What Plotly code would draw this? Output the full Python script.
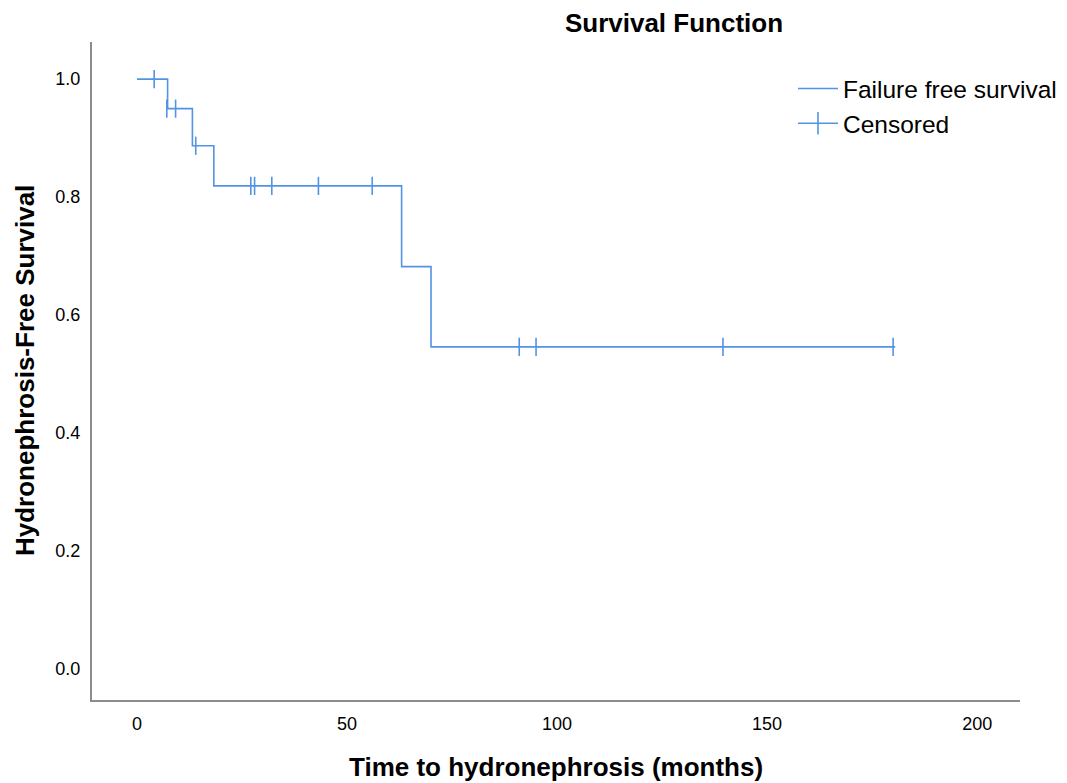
import plotly.graph_objects as go

# Kaplan-Meier step curve (event times and survival after each event)
step_times = [0, 7.3, 13.2, 18.3, 63.0, 70.0, 180.5]
step_surv = [1.0, 0.95, 0.887, 0.819, 0.682, 0.546, 0.546]

# Censored observations
cens_times = [4.1, 7.1, 9.2, 14.0, 27.1, 28.0, 32.1, 43.2, 56.0, 91.0, 95.0, 139.5, 180.0]
cens_surv = [1.0, 0.95, 0.95, 0.887, 0.819, 0.819, 0.819, 0.819, 0.819, 0.546, 0.546, 0.546, 0.546]

x_ticks = [0, 50, 100, 150, 200]
y_ticks = [0.0, 0.2, 0.4, 0.6, 0.8, 1.0]
y_tick_text = ["0.0", "0.2", "0.4", "0.6", "0.8", "1.0"]

BLUE = "#5393E3"
FONT = "Liberation Sans, Arial, sans-serif"

# page body has an 8px margin, so the figure is 8px smaller each way
W, H = 1059, 775
L, R, T, B = 84, 47, 34, 83
PW, PH = W - L - R, H - T - B

fig = go.Figure()
fig.add_trace(go.Scatter(
    x=step_times, y=step_surv, mode="lines", line=dict(shape="hv", color=BLUE, width=1.6),
    name="Failure free survival", hoverinfo="skip"))
fig.add_trace(go.Scatter(
    x=cens_times, y=cens_surv, mode="markers",
    marker=dict(symbol="line-ns-open", size=13, color=BLUE, line=dict(color=BLUE, width=1.6)),
    name="Censored", showlegend=False))
# legend entry for censored marks (line + tick, as in the original)
fig.add_trace(go.Scatter(
    x=[None], y=[None], mode="lines+markers", line=dict(color=BLUE, width=1.6),
    marker=dict(symbol="line-ns-open", size=20, color=BLUE, line=dict(color=BLUE, width=1.6)),
    name="Censored"))

fig.update_layout(
    width=W, height=H,
    paper_bgcolor="white", plot_bgcolor="white",
    margin=dict(l=L, r=R, t=T, b=B, autoexpand=False),
    font=dict(family=FONT, color="black"),
    title=dict(text="<b>Survival Function</b>", x=666 / W, xanchor="center",
               y=1 - 15 / H, yanchor="middle", font=dict(size=26, family=FONT)),
    legend=dict(x=(785 - L) / PW, y=(H - B - 58) / PH, xanchor="left", yanchor="top",
                font=dict(size=24.5, family=FONT), bgcolor="rgba(0,0,0,0)",
                itemwidth=40, tracegroupgap=0),
    showlegend=True,
    annotations=[
        dict(text="<b>Time to hydronephrosis (months)</b>", xref="paper", yref="paper",
             x=0.5, y=-(759 - (H - B)) / PH, xanchor="center", yanchor="middle",
             showarrow=False, font=dict(size=26, family=FONT)),
        dict(text="<b>Hydronephrosis-Free Survival</b>", xref="paper", yref="paper",
             x=(17 - L) / PW, y=(H - B - 363) / PH, xanchor="center", yanchor="middle",
             textangle=-90, showarrow=False, font=dict(size=26, family=FONT)),
    ],
)
fig.update_xaxes(
    range=[-10.7, 210.2], tickvals=x_ticks, showgrid=False, zeroline=False,
    showline=True, linecolor="#8c8c8c", linewidth=2, ticks="", ticklen=0,
    tickfont=dict(size=18, family=FONT), ticklabelstandoff=6,
)
fig.update_yaxes(
    range=[-0.053, 1.063], tickvals=y_ticks, ticktext=y_tick_text, showgrid=False, zeroline=False,
    showline=True, linecolor="#8c8c8c", linewidth=2, ticks="", ticklen=0,
    tickfont=dict(size=18, family=FONT), ticklabelstandoff=6,
)

fig.write_html("out.html")
